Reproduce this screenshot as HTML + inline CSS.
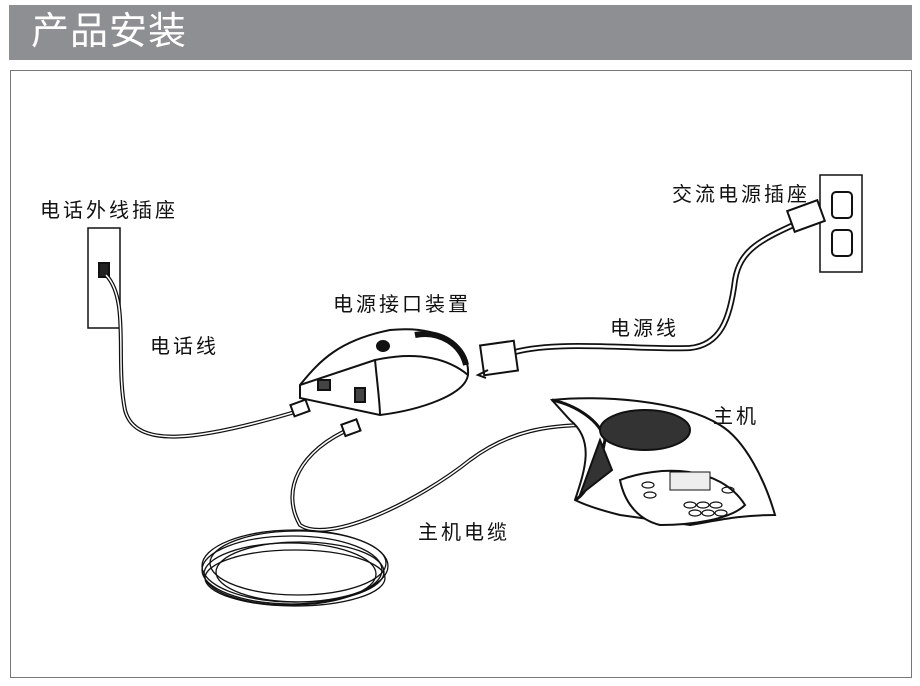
<!DOCTYPE html>
<html><head><meta charset="utf-8"><style>
body{margin:0;background:#fff;width:920px;height:686px;overflow:hidden;font-family:"Liberation Sans","Noto Sans CJK SC",sans-serif}
.hdr{position:absolute;left:9px;top:5px;width:903px;height:55px;background:#8e8f92;color:#fff;font-size:38px;line-height:55px;padding-left:22px;box-sizing:border-box;letter-spacing:1px}
.box{position:absolute;left:10px;top:70px;width:902px;height:608px;border:1px solid #777;box-sizing:border-box}
.l{position:absolute;font-size:20px;color:#111;letter-spacing:3px;white-space:nowrap}
svg{position:absolute;left:0;top:0}
</style></head><body>
<div class="hdr">产品安装</div>
<div class="box"></div>
<svg width="920" height="686" fill="none" stroke="#111" stroke-width="2">
<rect x="88" y="228" width="32" height="100" stroke-width="1.5"/>
<rect x="99" y="263" width="10" height="14" fill="#222"/>
<path d="M106 275 C130 300,115 360,125 410 C135 450,200 440,295 412" stroke-width="4"/>
<path d="M106 275 C130 300,115 360,125 410 C135 450,200 440,295 412" stroke="#fff" stroke-width="1.5"/>
<rect x="292" y="402" width="16" height="12" fill="#fff" transform="rotate(-20 300 408)"/>
<path d="M300 385 C320 360,340 340,390 330 C440 325,470 345,468 375 C465 395,420 410,380 415 L300 398 Z" fill="#fff"/>
<path d="M375 360 C378 390,380 405,380 415" />
<path d="M300 385 L375 360 C420 350,450 360,468 375"/>
<path d="M415 335 C440 330,462 345,466 365" stroke-width="6"/>
<ellipse cx="383" cy="346" rx="6" ry="5" fill="#111"/>
<rect x="318" y="380" width="12" height="10" fill="#444"/>
<rect x="355" y="388" width="10" height="14" fill="#444"/>
<path d="M352 428 C300 450,280 490,300 525 C330 545,420 500,470 460 C510 430,550 425,590 425" stroke-width="4"/>
<path d="M352 428 C300 450,280 490,300 525 C330 545,420 500,470 460 C510 430,550 425,590 425" stroke="#fff" stroke-width="1.5"/>
<rect x="343" y="422" width="16" height="12" fill="#fff" transform="rotate(-20 350 428)"/>
<g stroke-width="1.3">
<ellipse cx="295" cy="566" rx="93" ry="36"/><ellipse cx="292" cy="570" rx="90" ry="34"/>
<ellipse cx="298" cy="563" rx="88" ry="32"/><ellipse cx="290" cy="574" rx="86" ry="31"/>
<ellipse cx="300" cy="572" rx="84" ry="30"/><ellipse cx="295" cy="578" rx="90" ry="28"/>
</g>
<rect x="820" y="175" width="42" height="97" stroke-width="1.5"/>
<rect x="832" y="230" width="20" height="26" rx="4"/>
<rect x="832" y="192" width="20" height="26" rx="4"/>
<path d="M800 222 C760 240,740 250,735 280 C730 320,720 345,690 348 C640 350,560 340,515 352" stroke-width="6"/>
<path d="M800 222 C760 240,740 250,735 280 C730 320,720 345,690 348 C640 350,560 340,515 352" stroke="#fff" stroke-width="2.5"/>
<rect x="790" y="205" width="32" height="22" fill="#fff" transform="rotate(-20 806 216)"/>
<rect x="482" y="343" width="34" height="30" fill="#fff" transform="rotate(-8 499 358)"/>
<path d="M488 370 l-10 5 l8 3" stroke-width="2"/>
<path d="M552 400 C600 395,680 400,720 425 C745 440,765 480,775 515 C740 515,720 520,690 525 L620 515 C600 510,585 505,575 500 C585 470,595 440,570 420 Z" fill="#fff"/>
<path d="M552 400 C575 405,600 420,605 440 C600 470,585 495,575 500" stroke-width="3"/>
<ellipse cx="645" cy="430" rx="45" ry="20" fill="#333"/>
<path d="M580 495 L600 440 L612 470 Z" fill="#333"/>
<path d="M620 480 C660 465,720 465,745 505 C730 520,690 525,660 525 C640 520,625 505,620 480 Z" fill="#fff"/>
<rect x="670" y="472" width="40" height="18" fill="#eee" stroke-width="1"/>
<g stroke-width="1.2">
<ellipse cx="690" cy="505" rx="6" ry="3"/><ellipse cx="703" cy="505" rx="6" ry="3"/><ellipse cx="716" cy="505" rx="6" ry="3"/>
<ellipse cx="695" cy="513" rx="6" ry="3"/><ellipse cx="708" cy="513" rx="6" ry="3"/><ellipse cx="721" cy="513" rx="6" ry="3"/>
<ellipse cx="648" cy="485" rx="6" ry="3"/><ellipse cx="650" cy="495" rx="6" ry="3"/><ellipse cx="728" cy="490" rx="6" ry="3"/>
</g>
</svg>
<div class="l" style="left:40px;top:194px">电话外线插座</div>
<div class="l" style="left:150px;top:330px">电话线</div>
<div class="l" style="left:333px;top:288px">电源接口装置</div>
<div class="l" style="left:672px;top:178px">交流电源插座</div>
<div class="l" style="left:610px;top:312px">电源线</div>
<div class="l" style="left:713px;top:400px">主机</div>
<div class="l" style="left:418px;top:516px">主机电缆</div>
</body></html>
